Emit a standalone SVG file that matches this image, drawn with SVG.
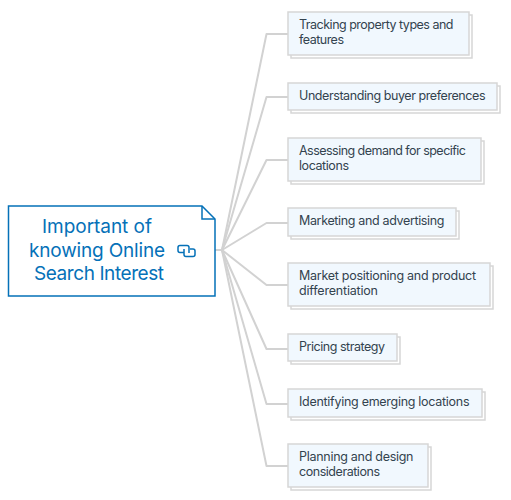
<svg xmlns="http://www.w3.org/2000/svg" width="511" height="500" viewBox="0 0 511 500">
<style>
.c{fill:none;stroke:#d2d2d2;stroke-width:2;stroke-linejoin:round}
.s{fill:#fff;stroke:#d6d6d6;stroke-width:1.5}
.b{fill:#f1f8fe;stroke:#d6d6d6;stroke-width:1.5}
.t{font-family:Inter,"Open Sans",sans-serif;font-size:12.500px;fill:#33434f}
.m{font-family:Inter,"Open Sans",sans-serif;font-size:19px;fill:#0571b8}
.i{fill:none;stroke:#0571b8;stroke-width:1.500}
</style>
<rect width="511" height="500" fill="#fff"/>
<g id="connectors">
<path class="c" d="M215 250H222L266.500 34H288"/>
<path class="c" d="M222 250L266.500 97H288"/>
<path class="c" d="M222 250L266.500 160H288"/>
<path class="c" d="M222 250L266.500 223H288"/>
<path class="c" d="M222 250L266.500 285H288"/>
<path class="c" d="M222 250L266.500 349H288"/>
<path class="c" d="M222 250L266.500 404H288"/>
<path class="c" d="M222 250L266.500 466H288"/>
</g>
<g id="root">
<path d="M8.500 206H202L215 219V296H8.500Z" fill="#fff" stroke="#0571b8" stroke-width="1.500"/>
<path d="M202 206V219H215" fill="none" stroke="#0571b8" stroke-width="1.500"/>
<text class="m" x="42" y="233" textLength="110" lengthAdjust="spacing">Important of</text>
<text class="m" x="29" y="257" textLength="136" lengthAdjust="spacing">knowing Online</text>
<text class="m" x="34" y="280" textLength="130" lengthAdjust="spacing">Search Interest</text>
<path class="i" d="M184 252.500H180Q178 252.500 178 250.500V247.500Q178 245.500 180 245.500H187Q189 245.500 189 247.500V253"/>
<path class="i" d="M190 249H193Q195 249 195 251V254.500Q195 256.500 193 256.500H186Q184 256.500 184 254.500V249"/>
</g>
<g id="n1"><rect class="s" x="291" y="15" width="181" height="43"/><rect class="b" x="288" y="12" width="181" height="43"/>
<text class="t" x="299" y="29" textLength="154.500" lengthAdjust="spacing">Tracking property types and</text><text class="t" x="299" y="44" textLength="45" lengthAdjust="spacing">features</text></g>
<g id="n2"><rect class="s" x="291" y="86" width="209" height="27"/><rect class="b" x="288" y="83" width="209" height="27"/>
<text class="t" x="299" y="100" textLength="186.500" lengthAdjust="spacing">Understanding buyer preferences</text></g>
<g id="n3"><rect class="s" x="291" y="141" width="193" height="43"/><rect class="b" x="288" y="138" width="193" height="43"/>
<text class="t" x="299" y="155" textLength="167" lengthAdjust="spacing">Assessing demand for specific</text><text class="t" x="299" y="170" textLength="50" lengthAdjust="spacing">locations</text></g>
<g id="n4"><rect class="s" x="291" y="211" width="168" height="28"/><rect class="b" x="288" y="208" width="168" height="28"/>
<text class="t" x="299" y="225" textLength="145.500" lengthAdjust="spacing">Marketing and advertising</text></g>
<g id="n5"><rect class="s" x="291" y="266" width="202" height="43"/><rect class="b" x="288" y="263" width="202" height="43"/>
<text class="t" x="299" y="280" textLength="177" lengthAdjust="spacing">Market positioning and product</text><text class="t" x="299" y="295" textLength="79" lengthAdjust="spacing">differentiation</text></g>
<g id="n6"><rect class="s" x="291" y="337" width="109" height="27"/><rect class="b" x="288" y="334" width="109" height="27"/>
<text class="t" x="299" y="351" textLength="86" lengthAdjust="spacing">Pricing strategy</text></g>
<g id="n7"><rect class="s" x="291" y="392" width="194" height="28"/><rect class="b" x="288" y="389" width="194" height="28"/>
<text class="t" x="299" y="406" textLength="170.500" lengthAdjust="spacing">Identifying emerging locations</text></g>
<g id="n8"><rect class="s" x="291" y="447" width="140" height="43"/><rect class="b" x="288" y="444" width="140" height="43"/>
<text class="t" x="299" y="461" textLength="114.500" lengthAdjust="spacing">Planning and design</text><text class="t" x="299" y="476" textLength="81" lengthAdjust="spacing">considerations</text></g>
</svg>
